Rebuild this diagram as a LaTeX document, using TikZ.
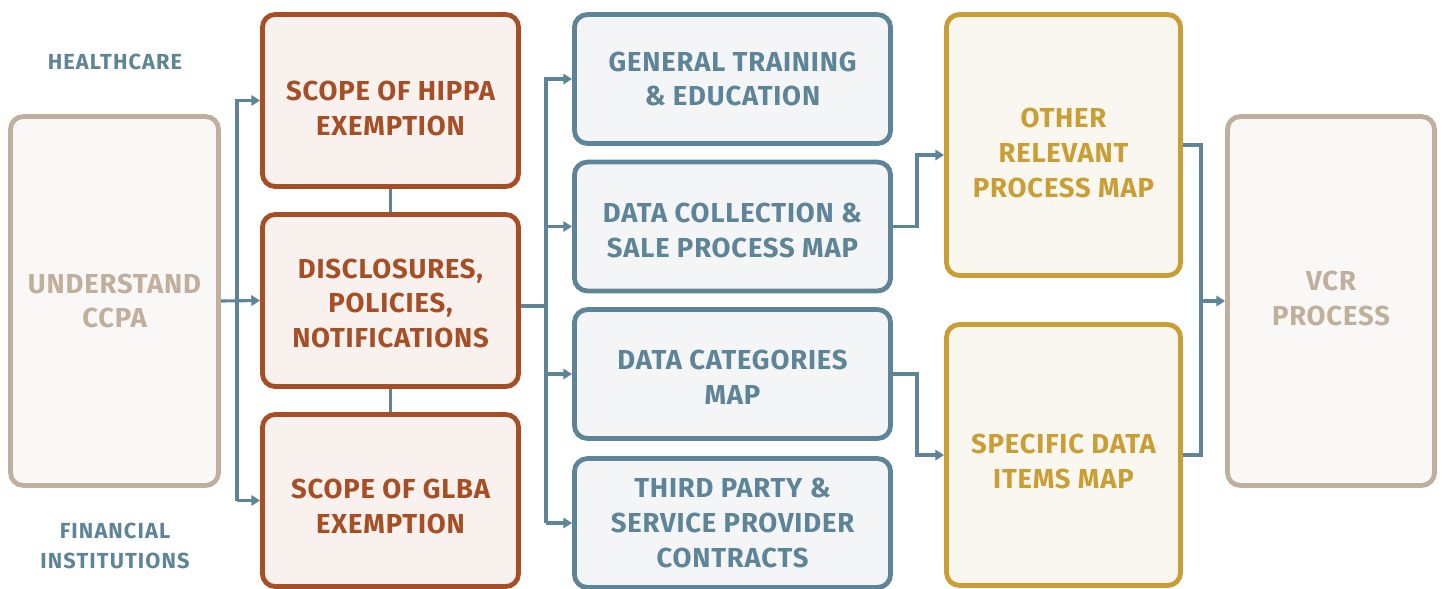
\documentclass[tikz,border=0pt]{standalone}
\usepackage{fontspec}
\setmainfont{Fira Sans}
\usetikzlibrary{positioning, arrows.meta}
\definecolor{rust}{HTML}{A64F27}
\definecolor{steel}{HTML}{5E8498}
\definecolor{gold}{HTML}{C99E35}
\definecolor{tan}{HTML}{C1AF9D}
\definecolor{rustfill}{HTML}{F8F1EE}
\definecolor{steelfill}{HTML}{F4F5F7}
\definecolor{goldfill}{HTML}{FAF7F0}
\definecolor{tanfill}{HTML}{FAF8F6}
\newcommand\lowered[1]{\rule{0pt}{#1}} % taller first line pushes the text down
\newcommand\raised[1]{\rule[-#1]{0pt}{0pt}} % deeper last line pushes the text up
\tikzset{
	x=0.025cm, y=-0.025cm, % pixel-like units, y downwards
	>={Triangle[length=0.22cm, width=0.26cm]}, % arrow heads
	box/.style={draw, line width=3.4pt, rounded corners=0.32cm, align=center,
		font=\bfseries\fontsize{19.5}{24.8}\selectfont\addfontfeature{LetterSpace=3}, inner sep=0pt},
	rustbox/.style={box, draw=rust, fill=rustfill, text=rust, minimum width=6.4cm, minimum height=4.3cm},
	steelbox/.style={box, draw=steel, fill=steelfill, text=steel, minimum width=7.9cm, minimum height=3.22cm},
	goldbox/.style={box, draw=gold, fill=goldfill, text=gold, minimum width=5.85cm, minimum height=6.52cm},
	tanbox/.style={box, draw=tan, fill=tanfill, text=tan, minimum width=5.2cm, minimum height=9.22cm},
	link/.style={draw=steel, line width=2.2pt},
	tag/.style={text=steel, align=center, font=\bfseries\fontsize{15.5}{21.5}\selectfont\addfontfeature{LetterSpace=5}},
}

\begin{document}
\begin{tikzpicture}
	\useasboundingbox (0,0) rectangle (1444,588);
	
	% left column
	\node[tanbox] (ccpa) at (114.5,301) {UNDERSTAND\\CCPA};
	\node[tag] (health) at (115,62) {HEALTHCARE};
	\node[tag] (finance) at (115,546) {FINANCIAL\\INSTITUTIONS};
	
	% scope boxes
	\node[rustbox] (hippa) at (390.5,100.5) {\lowered{0.9cm}SCOPE OF HIPPA\\EXEMPTION};
	\node[rustbox] (disc) at (390.5,300.5) {\lowered{0.63cm}DISCLOSURES,\\POLICIES,\\NOTIFICATIONS};
	\node[rustbox] (glba) at (390.5,500.5) {\lowered{0.78cm}SCOPE OF GLBA\\EXEMPTION};
	
	% maps
	\node[steelbox] (train) at (732.5,79) {GENERAL TRAINING\\\& EDUCATION};
	\node[steelbox] (collect) at (732.5,226.5) {\lowered{0.68cm}DATA COLLECTION \&\\SALE PROCESS MAP};
	\node[steelbox] (categ) at (732.5,374) {\lowered{0.63cm}DATA CATEGORIES\\MAP};
	\node[steelbox] (third) at (732.5,523) {THIRD PARTY \&\\SERVICE PROVIDER\\CONTRACTS};
	
	\node[goldbox] (other) at (1063.5,145) {\lowered{0.88cm}OTHER\\RELEVANT\\PROCESS MAP};
	\node[goldbox] (items) at (1063.5,455) {\lowered{0.83cm}SPECIFIC DATA\\ITEMS MAP};
	
	\node[tanbox, minimum width=5.175cm] (vcr) at (1331,301) {VCR\\PROCESS\raised{0.15cm}};
	
	% connectors
	\coordinate (busA) at (237,0);
	\draw[link, ->] (ccpa.east) -- (disc.west);
	\draw[link, ->] (busA |- glba.west) -- (busA |- hippa.west) -- (hippa.west);
	\draw[link, ->] (busA |- glba.west) -- (glba.west);
	\draw[link] (hippa) -- (disc);
	\draw[link] (disc) -- (glba);
	
	\coordinate (busB) at (546,306);
	\draw[link] (disc.east |- busB) -- (busB);
	\draw[link, ->] (busB |- third.west) -- (busB |- train.west) -- (train.west);
	\draw[link, ->] (busB |- collect.west) -- (collect.west);
	\draw[link, ->] (busB |- categ.west) -- (categ.west);
	\draw[link, ->] (busB |- third.west) -- (third.west);
	
	\coordinate (busC) at (917,155);
	\draw[link, ->] (collect.east) -- (busC |- collect.east) -- (busC) -- (other.west |- busC);
	\draw[link, ->] (categ.east) -- (busC |- categ.east) -- (busC |- items.west) -- (items.west);
	
	\coordinate (busD) at (1201,0);
	\draw[link] (other.east) -- (busD |- other.east) -- (busD |- items.east) -- (items.east);
	\draw[link, ->] (busD |- vcr.west) -- (vcr.west);
\end{tikzpicture}
\end{document}
